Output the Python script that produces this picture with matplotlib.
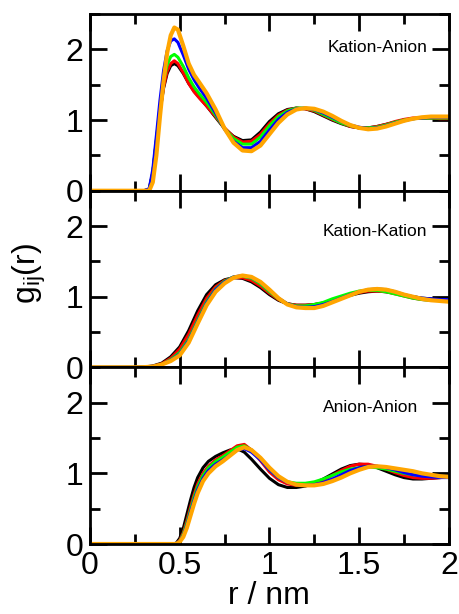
import numpy as np
import matplotlib
matplotlib.use("Agg")
import matplotlib.pyplot as plt
from matplotlib.ticker import MultipleLocator, FormatStrFormatter

plt.rcParams['font.family'] = ['Liberation Sans', 'DejaVu Sans']
plt.rcParams['mathtext.default'] = 'regular'

colors = ['black', '#ff0000', '#00ff00', '#0000ff', '#ffa500']

# Kation-Anion
r_ka = [0, 0.30, 0.33, 0.35, 0.37, 0.39, 0.41, 0.43, 0.45, 0.47, 0.49, 0.52, 0.55, 0.58, 0.61,
        0.65, 0.70, 0.75, 0.80, 0.85, 0.90, 0.95, 1.00, 1.05, 1.10, 1.15, 1.20, 1.25, 1.30,
        1.35, 1.40, 1.45, 1.50, 1.55, 1.60, 1.65, 1.70, 1.75, 1.80, 1.85, 1.90, 1.95, 2.00]
ka_black = [0, 0, 0.02, 0.25, 0.70, 1.12, 1.45, 1.66, 1.77, 1.80, 1.77, 1.66, 1.52, 1.41, 1.32,
            1.20, 1.04, 0.88, 0.77, 0.71, 0.72, 0.83, 0.98, 1.09, 1.15, 1.17, 1.16, 1.12, 1.06,
            1.00, 0.95, 0.91, 0.89, 0.89, 0.91, 0.94, 0.97, 1.00, 1.02, 1.03, 1.03, 1.03, 1.03]
ka_red = [0, 0, 0.02, 0.25, 0.70, 1.13, 1.47, 1.69, 1.80, 1.84, 1.80, 1.67, 1.52, 1.40, 1.31,
          1.20, 1.05, 0.89, 0.76, 0.69, 0.70, 0.80, 0.95, 1.07, 1.14, 1.17, 1.16, 1.13, 1.07,
          1.01, 0.96, 0.91, 0.89, 0.89, 0.91, 0.94, 0.98, 1.01, 1.03, 1.03, 1.03, 1.02, 1.02]
ka_green = [0, 0, 0.02, 0.25, 0.72, 1.18, 1.55, 1.78, 1.90, 1.93, 1.89, 1.76, 1.60, 1.47, 1.37,
            1.25, 1.07, 0.88, 0.74, 0.66, 0.66, 0.76, 0.92, 1.05, 1.13, 1.17, 1.17, 1.14, 1.08,
            1.02, 0.96, 0.92, 0.89, 0.89, 0.90, 0.93, 0.97, 1.00, 1.02, 1.03, 1.03, 1.03, 1.03]
ka_blue = [0, 0, 0.03, 0.30, 0.78, 1.28, 1.70, 1.98, 2.12, 2.15, 2.10, 1.92, 1.72, 1.57, 1.45,
           1.31, 1.10, 0.87, 0.70, 0.61, 0.61, 0.70, 0.86, 1.01, 1.11, 1.16, 1.17, 1.15, 1.10,
           1.04, 0.98, 0.93, 0.90, 0.88, 0.89, 0.92, 0.96, 0.99, 1.02, 1.03, 1.04, 1.04, 1.04]
ka_orange = [0, 0, 0.0, 0.12, 0.50, 1.05, 1.55, 1.95, 2.20, 2.31, 2.28, 2.05, 1.80, 1.64, 1.53,
             1.38, 1.15, 0.88, 0.68, 0.57, 0.56, 0.64, 0.80, 0.96, 1.08, 1.15, 1.17, 1.16, 1.12,
             1.06, 0.99, 0.93, 0.89, 0.87, 0.88, 0.91, 0.95, 0.99, 1.02, 1.04, 1.05, 1.05, 1.05]

# Kation-Kation
r_kk = [0, 0.25, 0.30, 0.35, 0.40, 0.45, 0.50, 0.55, 0.60, 0.65, 0.70, 0.75, 0.80, 0.85, 0.90,
        0.95, 1.00, 1.05, 1.10, 1.15, 1.20, 1.25, 1.30, 1.35, 1.40, 1.45, 1.50, 1.55, 1.60,
        1.65, 1.70, 1.75, 1.80, 1.85, 1.90, 1.95, 2.00]
kk_black = [0, 0, 0.005, 0.02, 0.06, 0.15, 0.29, 0.52, 0.80, 1.03, 1.17, 1.24, 1.27, 1.26, 1.21,
            1.13, 1.03, 0.95, 0.90, 0.88, 0.88, 0.89, 0.91, 0.94, 0.98, 1.02, 1.05, 1.07, 1.08,
            1.07, 1.05, 1.02, 1.00, 0.98, 0.97, 0.96, 0.96]
kk_red = [0, 0, 0.005, 0.015, 0.05, 0.13, 0.26, 0.47, 0.74, 0.98, 1.14, 1.23, 1.27, 1.27, 1.23,
          1.15, 1.05, 0.96, 0.90, 0.88, 0.88, 0.89, 0.91, 0.95, 0.99, 1.03, 1.06, 1.08, 1.08,
          1.07, 1.04, 1.01, 0.98, 0.96, 0.95, 0.95, 0.95]
kk_green = [0, 0, 0.004, 0.012, 0.04, 0.11, 0.21, 0.40, 0.67, 0.93, 1.11, 1.22, 1.28, 1.29, 1.26,
            1.18, 1.07, 0.97, 0.90, 0.87, 0.87, 0.89, 0.92, 0.97, 1.01, 1.05, 1.08, 1.09, 1.09,
            1.07, 1.04, 1.01, 0.98, 0.96, 0.95, 0.95, 0.95]
kk_blue = [0, 0, 0.004, 0.012, 0.04, 0.10, 0.19, 0.38, 0.65, 0.91, 1.10, 1.21, 1.28, 1.30, 1.27,
           1.20, 1.09, 0.98, 0.90, 0.86, 0.85, 0.86, 0.89, 0.93, 0.98, 1.03, 1.07, 1.10, 1.11,
           1.10, 1.07, 1.03, 1.00, 0.98, 0.97, 0.96, 0.96]
kk_orange = [0, 0, 0.003, 0.01, 0.04, 0.09, 0.17, 0.35, 0.62, 0.88, 1.07, 1.19, 1.27, 1.30, 1.28,
             1.21, 1.10, 0.98, 0.89, 0.85, 0.84, 0.84, 0.87, 0.92, 0.97, 1.02, 1.07, 1.10, 1.11,
             1.10, 1.07, 1.03, 1.00, 0.97, 0.95, 0.94, 0.93]

# Anion-Anion
r_aa = [0, 0.45, 0.48, 0.50, 0.52, 0.54, 0.56, 0.58, 0.60, 0.63, 0.66, 0.70, 0.74, 0.78, 0.82,
        0.86, 0.90, 0.95, 1.00, 1.05, 1.10, 1.15, 1.20, 1.25, 1.30, 1.35, 1.40, 1.45, 1.50,
        1.55, 1.60, 1.65, 1.70, 1.75, 1.80, 1.85, 1.90, 1.95, 2.00]
aa_black = [0, 0, 0.01, 0.08, 0.22, 0.42, 0.62, 0.80, 0.94, 1.08, 1.17, 1.24, 1.29, 1.33, 1.35,
            1.30, 1.20, 1.06, 0.93, 0.84, 0.80, 0.80, 0.82, 0.86, 0.92, 0.99, 1.06, 1.11, 1.13,
            1.12, 1.08, 1.03, 0.98, 0.94, 0.92, 0.92, 0.93, 0.94, 0.95]
aa_red = [0, 0, 0.0, 0.05, 0.16, 0.33, 0.52, 0.70, 0.85, 1.00, 1.10, 1.19, 1.25, 1.32, 1.39,
          1.41, 1.33, 1.18, 1.02, 0.91, 0.85, 0.83, 0.83, 0.85, 0.90, 0.97, 1.04, 1.10, 1.13,
          1.13, 1.10, 1.06, 1.01, 0.97, 0.94, 0.93, 0.93, 0.94, 0.95]
aa_green = [0, 0, 0.0, 0.04, 0.14, 0.30, 0.48, 0.66, 0.81, 0.97, 1.08, 1.17, 1.23, 1.30, 1.37,
            1.39, 1.33, 1.20, 1.05, 0.94, 0.88, 0.86, 0.86, 0.88, 0.92, 0.97, 1.02, 1.06, 1.08,
            1.09, 1.08, 1.06, 1.03, 1.00, 0.98, 0.97, 0.96, 0.95, 0.95]
aa_blue = [0, 0, 0.0, 0.04, 0.12, 0.27, 0.45, 0.62, 0.77, 0.93, 1.04, 1.13, 1.19, 1.26, 1.33,
           1.35, 1.30, 1.19, 1.05, 0.94, 0.87, 0.84, 0.83, 0.84, 0.87, 0.92, 0.98, 1.04, 1.08,
           1.10, 1.10, 1.08, 1.05, 1.01, 0.98, 0.96, 0.95, 0.94, 0.94]
aa_orange = [0, 0, 0.0, 0.03, 0.10, 0.23, 0.40, 0.57, 0.72, 0.89, 1.00, 1.10, 1.17, 1.25, 1.33,
             1.37, 1.33, 1.22, 1.08, 0.96, 0.88, 0.84, 0.83, 0.83, 0.85, 0.89, 0.94, 1.00, 1.05,
             1.09, 1.10, 1.09, 1.07, 1.05, 1.03, 1.00, 0.98, 0.96, 0.95]

panels = [
    (r_ka, [ka_black, ka_red, ka_green, ka_blue, ka_orange], 'Kation-Anion', 1.88, 2.03),
    (r_kk, [kk_black, kk_red, kk_green, kk_blue, kk_orange], 'Kation-Kation', 1.88, 1.93),
    (r_aa, [aa_black, aa_red, aa_green, aa_blue, aa_orange], 'Anion-Anion', 1.83, 1.93),
]

fig, axes = plt.subplots(3, 1, sharex=True, figsize=(4.59, 6.14), dpi=100)
fig.subplots_adjust(left=0.196, right=0.978, top=0.977, bottom=0.114, hspace=0)

for ax, (r, series, name, tx, ty) in zip(axes, panels):
    for g, c in zip(series, colors):
        lw = 3.0 if c == '#ffa500' else 2.2
        ax.plot(r, g, color=c, lw=lw, solid_capstyle='round')
    ax.text(tx, ty, name, ha='right', va='center', fontsize=12.5)
    ax.set_xlim(0, 2)
    ax.set_ylim(0, 2.5)
    ax.set_yticks([0, 1, 2])
    ax.yaxis.set_minor_locator(MultipleLocator(0.5))
    ax.xaxis.set_major_locator(MultipleLocator(0.5))
    ax.xaxis.set_minor_locator(MultipleLocator(0.25))
    ax.xaxis.set_major_formatter(FormatStrFormatter('%g'))
    ax.tick_params(which='both', direction='in', top=True, right=True, width=2,
                   labelsize=23, pad=5)
    ax.tick_params(which='major', length=12)
    ax.tick_params(which='minor', length=7)
    for s in ax.spines.values():
        s.set_linewidth(2)

axes[2].set_xlabel('r / nm', fontsize=23, labelpad=0)
fig.text(0.065, 0.555, 'g$_{ij}$(r)', rotation=90, ha='center', va='center', fontsize=23)

fig.savefig('out.png', dpi=100)
